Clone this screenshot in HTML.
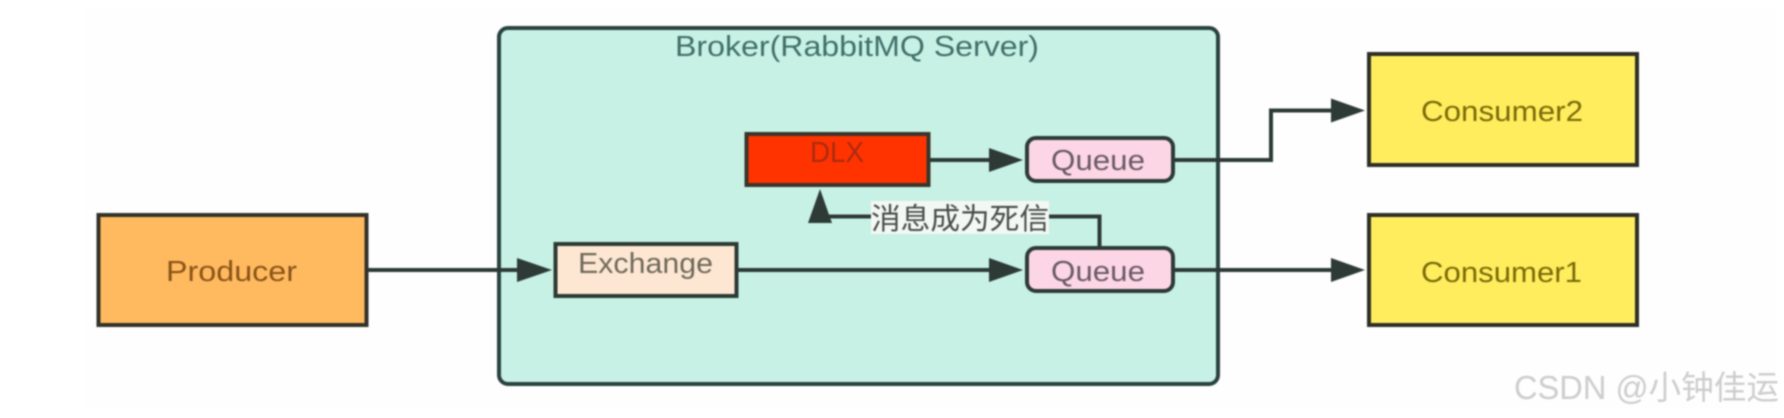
<!DOCTYPE html>
<html>
<head>
<meta charset="utf-8">
<style>
html,body{margin:0;padding:0;background:#fff;width:1784px;height:418px;overflow:hidden}
svg{display:block}
text{font-family:"Liberation Sans","Noto Sans CJK SC",sans-serif}
</style>
</head>
<body>
<svg width="1784" height="418" viewBox="0 0 1784 418" xmlns="http://www.w3.org/2000/svg">
<rect x="0" y="0" width="1784" height="418" fill="#ffffff"/>
<rect x="85" y="8" width="1690" height="400" fill="#fdfefd"/>
<g style="filter:blur(0.7px)">
<rect x="499" y="28" width="719" height="356" rx="9" fill="#c7f1e5" stroke="#2a423e" stroke-width="4"/>
<text x="675" y="56" font-size="29" fill="#41706a" textLength="364" lengthAdjust="spacingAndGlyphs">Broker(RabbitMQ Server)</text>

<rect x="98.500" y="215" width="268" height="110" fill="#ffb95f" stroke="#33322a" stroke-width="4"/>
<text x="166" y="281" font-size="29" fill="#8a5518" textLength="131" lengthAdjust="spacingAndGlyphs">Producer</text>

<rect x="555.500" y="244" width="181" height="52" fill="#fde7d2" stroke="#2d3a34" stroke-width="4"/>
<text x="578" y="273" font-size="29" fill="#6f6a5c" textLength="135" lengthAdjust="spacingAndGlyphs">Exchange</text>

<rect x="746.500" y="134" width="182" height="51" fill="#ff3300" stroke="#3a352b" stroke-width="4"/>
<text x="810" y="162" font-size="29" fill="#a92c10" textLength="54" lengthAdjust="spacingAndGlyphs">DLX</text>

<rect x="1027" y="138" width="146" height="43" rx="9" fill="#fcd6e5" stroke="#2d3a36" stroke-width="4"/>
<text x="1051" y="170" font-size="29" fill="#6b5a66" textLength="94" lengthAdjust="spacingAndGlyphs">Queue</text>

<rect x="1027" y="248" width="146" height="43" rx="9" fill="#fcd6e5" stroke="#2d3a36" stroke-width="4"/>
<text x="1051" y="281" font-size="29" fill="#6b5a66" textLength="94" lengthAdjust="spacingAndGlyphs">Queue</text>

<rect x="1369" y="54" width="268" height="111" fill="#ffed5e" stroke="#2e2f27" stroke-width="4"/>
<text x="1421" y="121" font-size="29" fill="#7a6b08" textLength="162" lengthAdjust="spacingAndGlyphs">Consumer2</text>

<rect x="1369" y="215" width="268" height="110" fill="#ffed5e" stroke="#2e2f27" stroke-width="4"/>
<text x="1421" y="282" font-size="29" fill="#7a6b08" textLength="161" lengthAdjust="spacingAndGlyphs">Consumer1</text>

<g fill="none" stroke="#2d3a36" stroke-width="4">
<path d="M368 270H520"/>
<path d="M738 270H992"/>
<path d="M930 160H992"/>
<path d="M1174 160H1271V110.500H1334"/>
<path d="M1174 270H1334"/>
<path d="M1099.500 248V216.500H825"/>
</g>
<g fill="#2d3a36">
<polygon points="552,270 517,258 517,282"/>
<polygon points="1023,270 989,258 989,282"/>
<polygon points="1023,160 989,148 989,172"/>
<polygon points="1365,110.500 1331,98.500 1331,122.500"/>
<polygon points="1365,270 1331,258 1331,282"/>
<polygon points="820,189 808,223 832,223"/>
</g>
<rect x="871" y="201" width="178" height="33" fill="#f4f8f5"/>
<text x="871" y="229" font-size="29.500" fill="#484d4a" textLength="178" lengthAdjust="spacingAndGlyphs">消息成为死信</text>
<text x="1514" y="399" font-size="33" fill="#cdcdcd" textLength="265" lengthAdjust="spacingAndGlyphs">CSDN @小钟佳运</text>
</g>
</svg>
</body>
</html>
